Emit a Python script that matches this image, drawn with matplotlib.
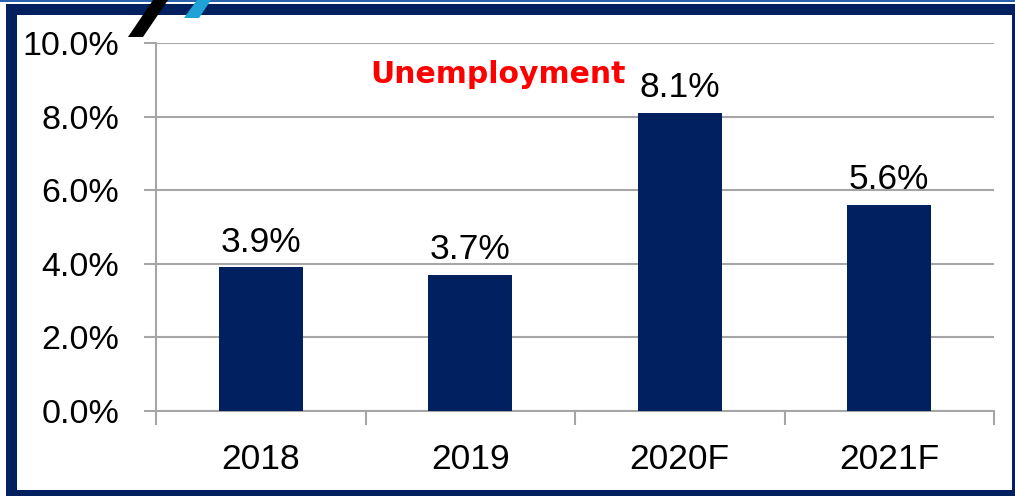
import matplotlib.pyplot as plt
from matplotlib.patches import Rectangle, Polygon

categories = ["2018", "2019", "2020F", "2021F"]
unemployment = [3.9, 3.7, 8.1, 5.6]
value_labels = ["3.9%", "3.7%", "8.1%", "5.6%"]
y_ticks = [0, 2, 4, 6, 8, 10]
y_tick_labels = ["0.0%", "2.0%", "4.0%", "6.0%", "8.0%", "10.0%"]
title = "Unemployment"

W, H = 1015, 496
navy = "#002060"
gray = "#a6a6a6"
font = ["Liberation Sans", "DejaVu Sans"]
fs = 25.5

fig = plt.figure(figsize=(W / 100, H / 100), dpi=100)
fig.patch.set_facecolor("white")

# axes placed by pixel positions of the original
ax = fig.add_axes([156 / W, (H - 411) / H, (994 - 156) / W, (411 - 43) / H])

x = list(range(len(categories)))
ax.bar(x, unemployment, width=0.4, color=navy, zorder=3)

for xi, v, lab in zip(x, unemployment, value_labels):
    ax.annotate(lab, (xi, v), xytext=(0, 11.5), textcoords="offset points",
                ha="center", va="baseline", fontsize=fs, family=font, color="black")

ax.set_xlim(-0.5, 3.5)
ax.set_ylim(0, 10)
ax.set_yticks(y_ticks)
ax.set_yticklabels(y_tick_labels, family=font, fontsize=fs - 1)
ax.yaxis.grid(True, color=gray, linewidth=1.5, zorder=0)
ax.set_axisbelow(True)

# category boundaries get tick marks, labels sit in between
ax.set_xticks([-0.5, 0.5, 1.5, 2.5, 3.5])
ax.set_xticklabels([])
ax.set_xticks(x, minor=True)
ax.set_xticklabels(categories, minor=True, family=font, fontsize=fs)
ax.tick_params(axis="x", which="major", length=10, width=1.5, color=gray, direction="out")
ax.tick_params(axis="x", which="minor", length=0, pad=23)
ax.tick_params(axis="y", length=8.6, width=1.5, color=gray, direction="out", pad=18)

for s in ["top", "right"]:
    ax.spines[s].set_visible(False)
for s in ["left", "bottom"]:
    ax.spines[s].set_color(gray)
    ax.spines[s].set_linewidth(1.5)

fig.text(370 / W, (H - 83) / H, title, color="#ff0000", fontsize=21.5,
         fontweight="bold", family=["DejaVu Sans"], ha="left", va="baseline")

# slide frame around the chart
def px_rect(x0, y0, x1, y1, color):
    fig.add_artist(Rectangle((x0 / W, 1 - y1 / H), (x1 - x0) / W, (y1 - y0) / H,
                             transform=fig.transFigure, color=color, lw=0, zorder=10))

px_rect(0, 0, W, 1.5, "#2a62ad")
px_rect(6, 4, W, 15, navy)
px_rect(6, 4, 17, H, navy)
px_rect(1012, 4, W, H, navy)
px_rect(6, 490, W, H, navy)

# bits of a logo peeking over the frame
def px_poly(pts, color):
    fig.add_artist(Polygon([(px / W, 1 - py / H) for px, py in pts], closed=True,
                           transform=fig.transFigure, color=color, lw=0, zorder=11))

px_poly([(153, 0), (168, 0), (143, 37), (128, 37)], "black")
px_poly([(197, 0), (211, 0), (199, 18), (184, 18)], "#1fa3d6")

fig.savefig("out.png", dpi=100)
